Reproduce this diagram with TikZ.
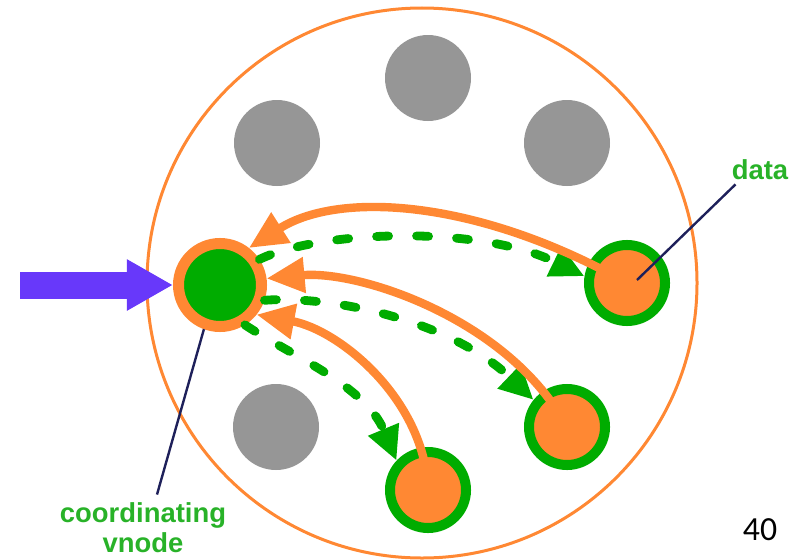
\documentclass[tikz,border=0pt]{standalone}
\usepackage{fontspec}
\setmainfont{Liberation Sans}
\newfontfamily\slidefont{Carlito}
\usetikzlibrary{arrows.meta}

\definecolor{vorange}{RGB}{255,136,51}
\definecolor{vgreen}{RGB}{0,172,0}
\definecolor{vtext}{RGB}{40,178,40}
\definecolor{vgray}{RGB}{150,150,150}
\definecolor{vpurple}{RGB}{104,56,250}
\definecolor{vnavy}{RGB}{30,32,90}

\begin{document}
\begin{tikzpicture}[x=0.025cm,y=-0.025cm,
    datanode/.style={circle,fill=vorange,draw=vgreen,line width=0.25cm,minimum size=1.9cm,inner sep=0pt},
    coordnode/.style={circle,fill=vgreen,draw=vorange,line width=0.275cm,minimum size=2.075cm,inner sep=0pt},
    reply/.style={vorange,line width=0.21cm,-{Triangle[length=0.95cm,width=0.85cm]}},
    request/.style={vgreen,line width=0.22cm,line cap=round,dash pattern=on 0.3cm off 0.7cm,-{Triangle[length=0.85cm,width=0.78cm]}},
    inflow/.style={vpurple,line width=0.675cm,-{Triangle[length=1.15cm,width=1.2cm]}},
    notetext/.style={text=vtext,font=\bfseries\fontsize{19.5}{21.5}\selectfont,align=center,inner sep=0pt},
    pointer/.style={vnavy,line width=0.06cm}]
    \useasboundingbox (0,0) rectangle (794,559);

    % Ring
    \draw[vorange,line width=0.075cm] (422,283) circle (275);

    % Idle vnodes
    \fill[vgray] (428,78) circle (43);
    \fill[vgray] (277,143) circle (43);
    \fill[vgray] (567,143) circle (43);
    \fill[vgray] (276,427) circle (43);

    % Coordinating vnode and data vnodes
    \node[coordnode] (vn) at (220,285) {};
    \node[datanode] (dA) at (627,283) {};
    \node[datanode] (dB) at (567,427) {};
    \node[datanode] (dC) at (428,490) {};

    % Incoming request
    \coordinate (src) at (20,285);
    \draw[inflow] (src) -- (vn.west);

    % Requests out
    \draw[request] (vn.33) .. controls (320,230) and (480,225) .. (dA.171);
    \draw[request] (vn.-19) .. controls (330,295) and (450,320) .. (dB.141);
    \draw[request] (vn.-58) .. controls (290,355) and (365,385) .. (dC.137);

    % Replies back
    \draw[reply] (dA.center) .. controls (480,200) and (340,190) .. (vn.52);
    \draw[reply] (dB.center) .. controls (510,320) and (360,270) .. (vn.8);
    \draw[reply] (dC.center) .. controls (425,400) and (340,330) .. (vn.-39);

    % Labels
    \node[notetext] (datatag) at (760,170) {data};
    \draw[pointer] ([shift={(4,4)}]datatag.south west) -- ([shift={(10,-3)}]dA.center);
    \node[notetext] (vntag) at (143,528) {coordinating\\vnode};
    \draw[pointer] ([shift={(14,-8)}]vntag.north) -- (vn.250);

    % Slide number
    \node[font=\slidefont\fontsize{24}{28}\selectfont] (pagenum) at (760,530) {40};
\end{tikzpicture}
\end{document}
